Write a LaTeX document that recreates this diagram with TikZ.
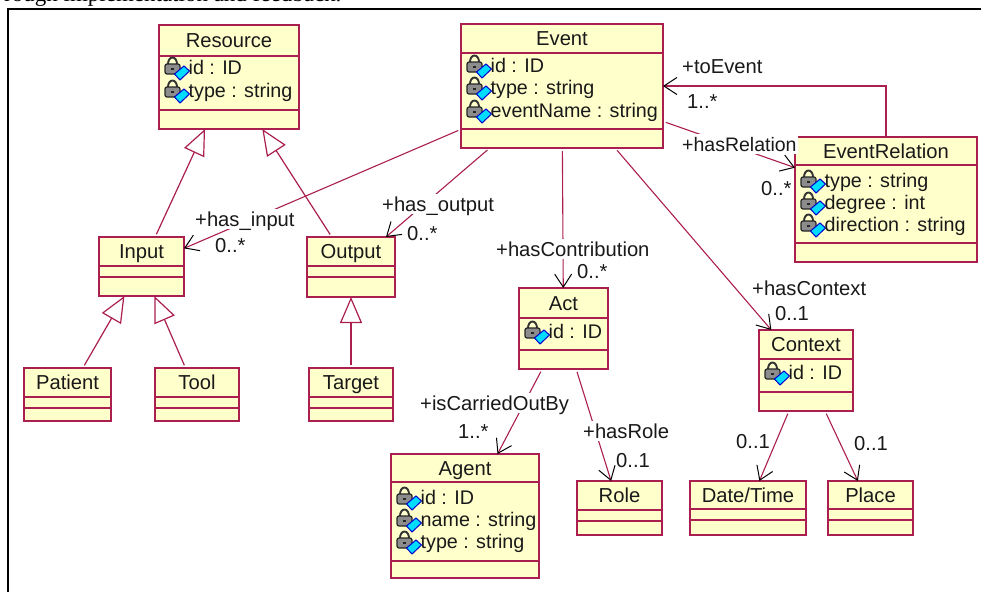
\documentclass[tikz,border=0pt]{standalone}
\usepackage{fontspec}
\setmainfont{Liberation Sans}
\newfontfamily\captionfont{Liberation Serif}
\usetikzlibrary{arrows.meta}
\definecolor{umlline}{RGB}{170,30,80}
\definecolor{umlfill}{RGB}{255,255,204}
\definecolor{umltext}{RGB}{25,25,25}
\definecolor{umlkey}{RGB}{0,220,255}

% one class: name, title, x1, y1, x2, y2, first and second compartment line
\newcommand{\umlclass}[8]{
\node[classbox,minimum width={(#5-#3)*1pt},minimum height={(#6-#4)*1pt}](#1) at ({(#3+#5)/2},{(#4+#6)/2}){};
\node[classtitle](#1title) at ({(#3+#5)/2},{(#4+#7)/2}){#2};
\draw [classrule] (#3,#7) -- (#5,#7);
\draw [classrule] (#3,#8) -- (#5,#8);
}
% one attribute: name, x of the box, y of the row, text
\newcommand{\umlattr}[4]{
\pic at (#2,#3) {attricon};
\node[attrtext](#1) at (#2+29.5,#3){#4};
}

\begin{document}
\begin{tikzpicture}[x=1pt,y=-1pt,font=\fontsize{20.2}{22}\selectfont]
\useasboundingbox (0,0) rectangle (981,592);
\tikzstyle{classbox}=[rectangle,draw=umlline,fill=umlfill,line width=1.6pt,inner sep=0pt,outer sep=0pt]
\tikzstyle{classtitle}=[text=umltext,inner sep=0pt,text height=16pt,text depth=2pt]
\tikzstyle{classrule}=[draw=umlline,line width=1.4pt]
\tikzstyle{attrtext}=[anchor=west,text=umltext,inner sep=0pt,text height=16pt,text depth=2pt,font=\fontsize{19.7}{22}\selectfont]
\tikzstyle{assoc}=[draw=umlline,line width=1.1pt,shorten <=3pt,-{Straight Barb[color=black,length=13pt,width=17pt,line width=1pt]}]
\tikzstyle{genassoc}=[draw=umlline,line width=1.2pt,shorten <=3pt,-{Triangle[fill=white,length=26pt,width=22pt,line width=1.2pt]}]
\tikzstyle{rolelabel}=[anchor=west,fill=white,text=umltext,inner sep=1pt,text height=16pt,text depth=2pt]
\tikzstyle{multlabel}=[anchor=west,text=umltext,inner sep=0pt,text height=16pt,text depth=2pt]
\tikzset{attricon/.pic={
\draw[black!80,line width=1.9pt] (9,-3) arc (180:360:4.5 and 6.5);
\draw[black!85,fill=black!45,line width=1.2pt,rounded corners=2pt] (6,-3) rectangle (21,7);
\fill[black!85] (12,1) rectangle (15,3);
\draw[blue!80!black,fill=umlkey,line width=1pt] (25,-1) -- (30.5,4) -- (21,13) -- (15.5,7) -- cycle;
}}

% frame and the text above it
\node[anchor=base west,inner sep=0pt,font=\captionfont\fontsize{23}{25}\selectfont](cap) at (4,1){rough implementation and feedback.};
\draw [black,line width=2.5pt] (8,592) -- (8,9) -- (981,9);

% classes
\umlclass{Resource}{Resource}{159}{25}{299}{129}{56}{110}
\umlclass{Event}{Event}{461}{24}{663}{148}{53}{129}
\umlclass{EventRelation}{EventRelation}{795}{137}{977}{262}{165}{243}
\umlclass{Input}{Input}{99}{237}{184}{296}{266}{277}
\umlclass{Output}{Output}{307}{237}{395}{297}{266}{277}
\umlclass{Patient}{Patient}{24}{368}{111}{421}{397}{408}
\umlclass{Tool}{Tool}{155}{368}{239}{421}{397}{408}
\umlclass{Target}{Target}{309}{368}{393}{421}{397}{408}
\umlclass{Act}{Act}{519}{288}{608}{369}{318}{350}
\umlclass{Context}{Context}{759}{330}{853}{411}{359}{392}
\umlclass{Agent}{Agent}{391}{454}{539}{578}{482}{561}
\umlclass{Role}{Role}{577}{481}{662}{535}{510}{521}
\umlclass{DateTime}{Date/Time}{690}{481}{806}{535}{509}{520}
\umlclass{Place}{Place}{828}{481}{913}{535}{509}{520}

% attributes
\umlattr{ra1}{159}{67}{id : ID}
\umlattr{ra2}{159}{90}{type : string}
\umlattr{ea1}{461}{65}{id : ID}
\umlattr{ea2}{461}{87}{type : string}
\umlattr{ea3}{461}{110}{eventName : string}
\umlattr{va1}{795}{180}{type : string}
\umlattr{va2}{795}{202}{degree : int}
\umlattr{va3}{795}{224}{direction : string}
\umlattr{aa1}{519}{331}{id : ID}
\umlattr{ca1}{759}{372}{id : ID}
\umlattr{ga1}{391}{497}{id : ID}
\umlattr{ga2}{391}{519}{name : string}
\umlattr{ga3}{391}{541}{type : string}

% generalisations
\draw [genassoc] (Input) to (Resource);
\draw [genassoc] (Output) to (Resource);
\draw [genassoc] (Patient) to (Input);
\draw [genassoc] (Tool) to (Input);
\draw [genassoc] (Target) to (Output);

% associations
\draw [assoc] (Event) to (Input);
\draw [assoc] (Event) to (Output);
\draw [assoc] (Event) to (Act);
\draw [assoc] (Event) to (Context);
\draw [assoc] (Event) to (EventRelation);
\draw [assoc,shorten <=0pt] (EventRelation.north) |- (Event.east);
\draw [assoc] (Act) to (Agent);
\draw [assoc] (Act) to (Role);
\draw [assoc] (Context) to (DateTime);
\draw [assoc] (Context) to (Place);

% association ends
\node[rolelabel](l1) at (681,66){+toEvent};
\node[multlabel](m1) at (687,101){1..*};
\node[rolelabel,font=\fontsize{19.5}{22}\selectfont](l2) at (681,144){+hasRelation};
\node[multlabel](m2) at (761,188){0..*};
\node[rolelabel](l3) at (194,219){+has\_input};
\node[multlabel](m3) at (215,245){0..*};
\node[rolelabel](l4) at (381,204){+has\_output};
\node[multlabel](m4) at (407,233){0..*};
\node[rolelabel](l5) at (495,249){+hasContribution};
\node[multlabel](m5) at (577,271){0..*};
\node[rolelabel](l6) at (751,288){+hasContext};
\node[multlabel](m6) at (775,313){0..1};
\node[rolelabel](l7) at (419,403){+isCarriedOutBy};
\node[multlabel](m7) at (458,431){1..*};
\node[rolelabel](l8) at (582,431){+hasRole};
\node[multlabel](m8) at (616,460){0..1};
\node[multlabel](m9) at (736,441){0..1};
\node[multlabel](m10) at (854,443){0..1};
\end{tikzpicture}
\end{document}
